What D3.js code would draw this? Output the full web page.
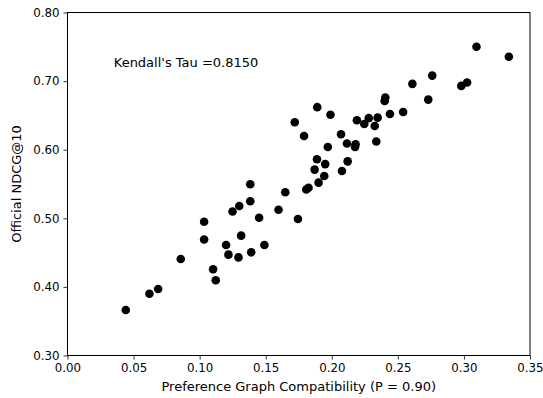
<!DOCTYPE html>
<html>
<head>
<meta charset="utf-8">
<script src="https://cdn.jsdelivr.net/npm/d3@7"></script>
<style>
  body { margin: 0; background: #fff; }
  text { font-family: "DejaVu Sans", sans-serif; }
</style>
</head>
<body>
<div id="chart"></div>
<script>
// preference graph compatibility (x) vs official NDCG@10 (y)
const compat = [
  0.3095, 0.334, 0.276, 0.261, 0.3024, 0.298, 0.273, 0.2405, 0.240, 0.254,
  0.244, 0.189, 0.199, 0.172, 0.179, 0.219, 0.2246, 0.228, 0.2325, 0.2347,
  0.2337, 0.207, 0.197, 0.2115, 0.218, 0.2176, 0.1888, 0.195, 0.187, 0.212,
  0.2077, 0.1943, 0.190, 0.1824, 0.1807, 0.1744, 0.1383, 0.1648, 0.1383, 0.130,
  0.1249, 0.1597, 0.145, 0.1034, 0.1034, 0.1314, 0.120, 0.149, 0.1218, 0.1294,
  0.139, 0.0857, 0.1102, 0.1122, 0.0686, 0.062, 0.0441
];
const ndcg = [
  0.750, 0.7356, 0.708, 0.696, 0.698, 0.693, 0.673, 0.676, 0.671, 0.655,
  0.652, 0.662, 0.651, 0.640, 0.620, 0.643, 0.6375, 0.646, 0.6345, 0.6467,
  0.612, 0.6225, 0.604, 0.609, 0.608, 0.604, 0.586, 0.579, 0.571, 0.583,
  0.569, 0.5617, 0.552, 0.5446, 0.542, 0.499, 0.5496, 0.538, 0.5248, 0.518,
  0.510, 0.5125, 0.5009, 0.495, 0.469, 0.4747, 0.461, 0.461, 0.447, 0.443,
  0.4504, 0.4407, 0.4257, 0.4096, 0.397, 0.390, 0.3663
];
const xTicks = [0, 0.05, 0.10, 0.15, 0.20, 0.25, 0.30, 0.35];
const yTicks = [0.30, 0.40, 0.50, 0.60, 0.70, 0.80];
const tau = "0.8150";

const width = 543, height = 398;
const margin = {top: 12.5, right: 13, bottom: 42.5, left: 67.5};

const svg = d3.select("#chart").append("svg")
  .attr("width", width)
  .attr("height", height);

const x = d3.scaleLinear().domain([0, 0.35]).range([margin.left, width - margin.right]);
const y = d3.scaleLinear().domain([0.3, 0.8]).range([height - margin.bottom, margin.top]);

// points
svg.append("g")
  .selectAll("circle")
  .data(compat.map((c, i) => [c, ndcg[i]]))
  .join("circle")
    .attr("cx", d => x(d[0]))
    .attr("cy", d => y(d[1]))
    .attr("r", 4.3)
    .attr("fill", "black");

// axes
const xAxis = svg.append("g")
  .attr("transform", `translate(0,${height - margin.bottom})`)
  .call(d3.axisBottom(x).tickValues(xTicks).tickFormat(d3.format(".2f")).tickSizeOuter(0).tickSize(4).tickPadding(4));
const yAxis = svg.append("g")
  .attr("transform", `translate(${margin.left},0)`)
  .call(d3.axisLeft(y).tickValues(yTicks).tickFormat(d3.format(".2f")).tickSizeOuter(0).tickSize(4).tickPadding(4));

[xAxis, yAxis].forEach(g => {
  g.selectAll("text").style("font-size", "11.8px").attr("fill", "#000").style("font-family", "DejaVu Sans");
  g.select(".domain").remove();
  g.selectAll("line").attr("stroke", "#000").attr("stroke-width", 0.8);
});

// frame
svg.append("rect")
  .attr("x", margin.left)
  .attr("y", margin.top)
  .attr("width", width - margin.right - margin.left)
  .attr("height", height - margin.bottom - margin.top)
  .attr("fill", "none")
  .attr("stroke", "black")
  .attr("stroke-width", 1);

// labels
svg.append("text")
  .attr("x", (margin.left + width - margin.right) / 2)
  .attr("y", 391)
  .attr("text-anchor", "middle")
  .style("font-size", "13px")
  .text("Preference Graph Compatibility (P = 0.90)");

svg.append("text")
  .attr("transform", `translate(21,${(margin.top + height - margin.bottom) / 2}) rotate(-90)`)
  .attr("text-anchor", "middle")
  .style("font-size", "13px")
  .text("Official NDCG@10");

svg.append("text")
  .attr("x", x(0.035))
  .attr("y", y(0.72))
  .style("font-size", "13px")
  .text("Kendall's Tau =" + tau);
</script>
</body>
</html>
